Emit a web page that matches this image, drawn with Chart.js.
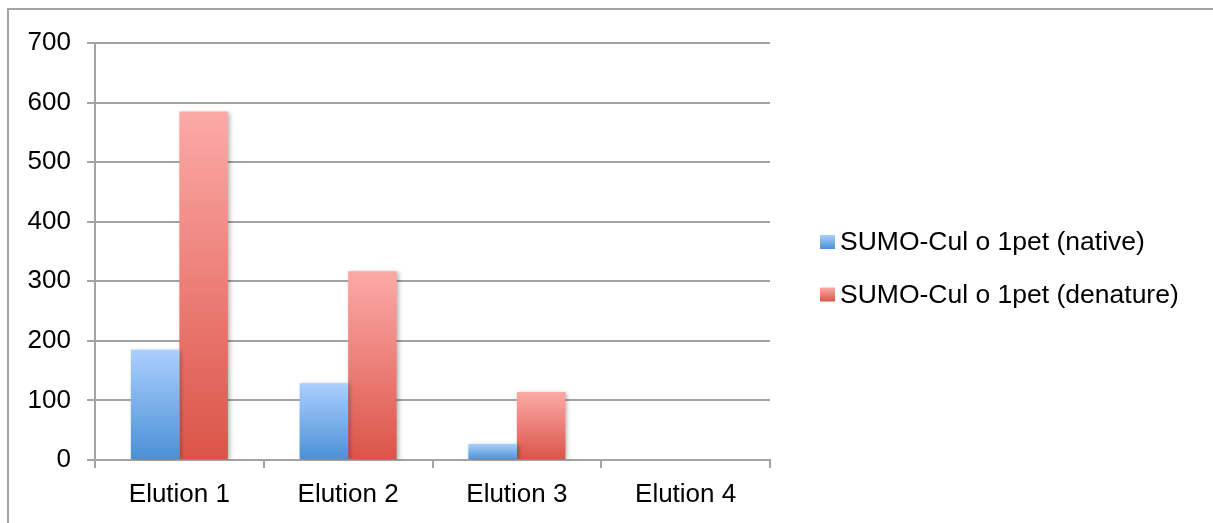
<!DOCTYPE html>
<html>
<head>
<meta charset="utf-8">
<script src="https://cdn.jsdelivr.net/npm/chart.js@4/dist/chart.umd.min.js"></script>
<style>
  html, body { margin: 0; padding: 0; background: #fff; }
  #wrap { width: 1213px; height: 523px; position: relative; }
</style>
</head>
<body>
<div id="wrap"><canvas id="grafico" width="1213" height="523"></canvas></div>
<script>
// Dados
const categorias = ['Elution 1', 'Elution 2', 'Elution 3', 'Elution 4'];
const nativo = [185, 129, 27, 0];
const desnaturado = [585, 317, 114, 0];
const series = ['SUMO-Cul o 1pet (native)', 'SUMO-Cul o 1pet (denature)'];
const ticksY = [0, 100, 200, 300, 400, 500, 600, 700];

const fonte = 'Liberation Sans';
const tamanhoFonte = 26;
const cores = [
  { topo: '#abcffe', base: '#4a90d6' },
  { topo: '#fcaaa7', base: '#db5448' }
];

// Gradiente vertical de cada barra (do topo da barra até a base)
function gradienteBarra(context, cor) {
  const chart = context.chart;
  const y = chart.scales.y;
  if (!y || !context.parsed) return cor.base;
  const topo = y.getPixelForValue(context.parsed.y);
  const base = y.getPixelForValue(0);
  if (!isFinite(topo) || !isFinite(base) || base - topo < 1) return cor.base;
  const g = chart.ctx.createLinearGradient(0, topo, 0, base);
  g.addColorStop(0, cor.topo);
  g.addColorStop(1, cor.base);
  return g;
}

// Moldura cinza no canto superior esquerdo
const moldura = {
  id: 'moldura',
  beforeDraw(chart) {
    const ctx = chart.ctx;
    ctx.save();
    ctx.strokeStyle = '#a3a3a3';
    ctx.lineWidth = 2;
    ctx.beginPath();
    ctx.moveTo(8, chart.height);
    ctx.lineTo(8, 9);
    ctx.lineTo(chart.width, 9);
    ctx.stroke();
    ctx.restore();
  }
};

// Sombra leve nas barras
const sombra = {
  id: 'sombra',
  beforeDatasetsDraw(chart) {
    const ctx = chart.ctx;
    ctx.save();
    ctx.shadowColor = 'rgba(0,0,0,0.28)';
    ctx.shadowBlur = 4;
    ctx.shadowOffsetX = 2;
    ctx.shadowOffsetY = 1;
  },
  afterDatasetsDraw(chart) {
    chart.ctx.restore();
  }
};

// Legenda à direita
const legenda = {
  id: 'legenda',
  afterDraw(chart) {
    const ctx = chart.ctx;
    ctx.save();
    ctx.font = '26.5px "' + fonte + '"';
    ctx.textBaseline = 'middle';
    chart.data.datasets.forEach((ds, i) => {
      const cy = 242 + i * 52.5;
      const g = ctx.createLinearGradient(0, cy - 7, 0, cy + 7);
      g.addColorStop(0, cores[i].topo);
      g.addColorStop(1, cores[i].base);
      ctx.fillStyle = g;
      ctx.fillRect(820, cy - 7, 15, 14);
      ctx.fillStyle = '#000';
      ctx.fillText(ds.label, 840, cy + 1);
    });
    ctx.restore();
  }
};

const ctx = document.getElementById('grafico').getContext('2d');
const grafico = new Chart(ctx, {
  type: 'bar',
  data: {
    labels: categorias,
    datasets: [
      {
        label: series[0],
        data: nativo,
        backgroundColor: c => gradienteBarra(c, cores[0]),
        categoryPercentage: 0.575,
        barPercentage: 1
      },
      {
        label: series[1],
        data: desnaturado,
        backgroundColor: c => gradienteBarra(c, cores[1]),
        categoryPercentage: 0.575,
        barPercentage: 1
      }
    ]
  },
  options: {
    responsive: false,
    animation: false,
    layout: { padding: { left: 0, top: 43, right: 443, bottom: 0 } },
    plugins: {
      legend: { display: false },
      tooltip: { enabled: false }
    },
    scales: {
      x: {
        grid: {
          drawOnChartArea: false,
          color: '#a3a3a3',
          lineWidth: 2,
          tickLength: 8
        },
        border: { color: '#a3a3a3', width: 2 },
        ticks: {
          color: '#000',
          font: { family: fonte, size: tamanhoFonte },
          padding: 11
        },
        afterFit(scale) { scale.height = 63; }
      },
      y: {
        min: 0,
        max: 700,
        afterBuildTicks(scale) { scale.ticks = ticksY.map(v => ({ value: v })); },
        grid: {
          color: '#a3a3a3',
          lineWidth: 2,
          tickLength: 8
        },
        border: { color: '#a3a3a3', width: 2 },
        ticks: {
          color: '#000',
          font: { family: fonte, size: tamanhoFonte },
          padding: 16
        },
        afterFit(scale) { scale.width = 95; }
      }
    }
  },
  plugins: [moldura, sombra, legenda]
});
</script>
</body>
</html>
